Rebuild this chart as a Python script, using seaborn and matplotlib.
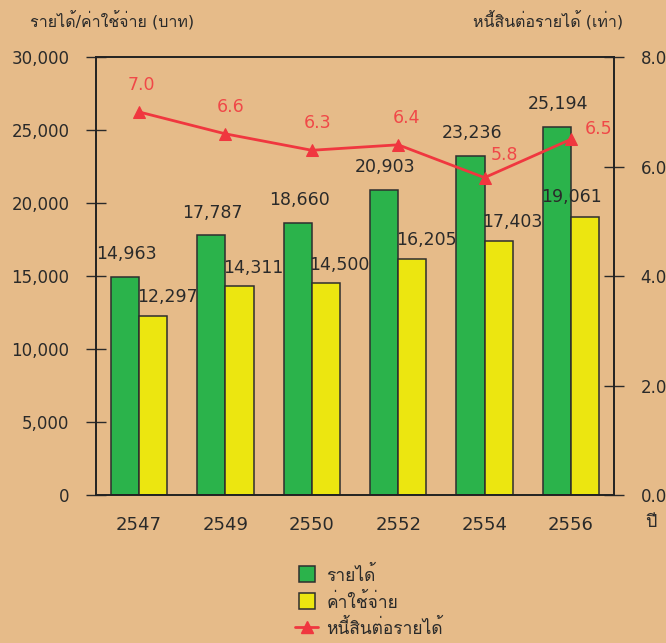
import pandas as pd
import matplotlib
matplotlib.use("Agg")
import matplotlib.pyplot as plt
import seaborn as sns
from matplotlib import font_manager
from matplotlib.ft2font import FT2Font
from matplotlib.lines import Line2D


years = ["2547", "2549", "2550", "2552", "2554", "2556"]
income = [14963, 17787, 18660, 20903, 23236, 25194]
expense = [12297, 14311, 14500, 16205, 17403, 19061]
debt_ratio = [7.0, 6.6, 6.3, 6.4, 5.8, 6.5]

income_name = "รายได้"
expense_name = "ค่าใช้จ่าย"
ratio_name = "หนี้สินต่อรายได้"
left_title = "รายได้/ค่าใช้จ่าย (บาท)"
right_title = "หนี้สินต่อรายได้ (เท่า)"
year_word = "ปี"

BG = "#E6BB89"
GREEN = "#2BB34B"
YELLOW = "#ECE610"
RED = "#F0373F"
RED_TEXT = "#F04848"
INK = "#2A2A2A"
EDGE = "#2E2E2E"


def find_thai_families():
	# look for any installed font that has Thai glyphs
	found = []
	for f in font_manager.fontManager.ttflist:
		try:
			ft = FT2Font(f.fname)
			if ft.get_char_index(ord("ร")) and ft.get_char_index(ord("้")):
				if f.name not in found:
					found.append(f.name)
		except Exception:
			continue
	return found


def plot_chart():
	sns.set_theme(style="white")
	thai = find_thai_families()
	plt.rcParams["font.family"] = ["DejaVu Sans"] + thai
	plt.rcParams["text.color"] = INK

	df = pd.DataFrame({
		"year": years * 2,
		"value": income + expense,
		"kind": [income_name] * len(years) + [expense_name] * len(years),
	})

	fig = plt.figure(figsize=(6.66, 6.43), dpi=100, facecolor=BG)
	ax = fig.add_axes([0.144, 0.230, 0.778, 0.681])
	ax.set_facecolor(BG)
	sns.barplot(
		data=df,
		x="year",
		y="value",
		hue="kind",
		palette={income_name: GREEN, expense_name: YELLOW},
		saturation=1,
		width=0.65,
		edgecolor=EDGE,
		linewidth=1.1,
		ax=ax,
		legend=False,
	)
	ax.set_xlim(-0.5, len(years) - 0.5)
	ax.set_ylim(0, 30000)
	ax.set_yticks(range(0, 30001, 5000))
	ax.set_yticklabels([f"{v:,}" for v in range(0, 30001, 5000)])
	ax.set_xlabel("")
	ax.set_ylabel("")
	ax.tick_params(axis="y", direction="inout", length=14, width=1, pad=12,
		labelsize=12, colors=INK, left=True)
	ax.tick_params(axis="x", length=0, pad=15, labelsize=13, colors=INK)
	for s in ax.spines.values():
		s.set_color("#222222")
		s.set_linewidth(1.2)

	# value labels over the bars
	expense_offsets = [(10, 7)] * (len(years) - 1) + [(-10, 8)]
	for i in range(len(years)):
		ax.annotate(f"{income[i]:,}", (i - 0.1625, income[i]), xytext=(1, 10),
			textcoords="offset points", ha="center", va="bottom", fontsize=12.5, color=INK)
		ax.annotate(f"{expense[i]:,}", (i + 0.1625, expense[i]), xytext=expense_offsets[i],
			textcoords="offset points", ha="center", va="bottom", fontsize=12.5, color=INK)

	ax2 = ax.twinx()
	sns.lineplot(
		x=list(range(len(years))),
		y=debt_ratio,
		color=RED,
		marker="^",
		markersize=9,
		markeredgecolor=RED,
		linewidth=2,
		ax=ax2,
	)
	ax2.set_ylim(0, 8)
	ax2.set_yticks([0, 2, 4, 6, 8])
	ax2.set_yticklabels(["0.0", "2.0", "4.0", "6.0", "8.0"])
	ax2.tick_params(axis="y", direction="inout", length=14, width=1, pad=12,
		labelsize=12, colors=INK, right=True)
	for s in ax2.spines.values():
		s.set_color("#222222")
		s.set_linewidth(1.2)

	label_offsets = [(2, 13), (4, 13), (4, 13), (6, 13), (14, 10), (10, 1)]
	for i, r in enumerate(debt_ratio):
		dx, dy = label_offsets[i]
		ha = "left" if i == len(years) - 1 else "center"
		ax2.annotate(f"{r:.1f}", (i, r), xytext=(dx, dy), textcoords="offset points",
			ha=ha, va="bottom", fontsize=12.5, color=RED_TEXT)

	fig.text(0.045, 0.968, left_title, fontsize=11.5, ha="left", va="center", color=INK)
	fig.text(0.935, 0.968, right_title, fontsize=11.5, ha="right", va="center", color=INK)
	fig.text(0.978, 0.188, year_word, fontsize=13, ha="center", va="center", color=INK)

	handles = [
		Line2D([0], [0], linestyle="none", marker="s", markersize=12,
			markerfacecolor=GREEN, markeredgecolor=EDGE, markeredgewidth=1.1, label=income_name),
		Line2D([0], [0], linestyle="none", marker="s", markersize=12,
			markerfacecolor=YELLOW, markeredgecolor=EDGE, markeredgewidth=1.1, label=expense_name),
		Line2D([0], [0], color=RED, marker="^", markersize=9, linewidth=2, label=ratio_name),
	]
	fig.legend(handles=handles, loc="upper left", bbox_to_anchor=(0.433, 0.130),
		frameon=False, fontsize=12.5, handlelength=1.3, handleheight=1.1,
		labelspacing=0.42, handletextpad=0.5, borderaxespad=0)

	fig.savefig("out.png", dpi=100, facecolor=BG)


def main():
	plot_chart()


if __name__ == "__main__":
	main()
